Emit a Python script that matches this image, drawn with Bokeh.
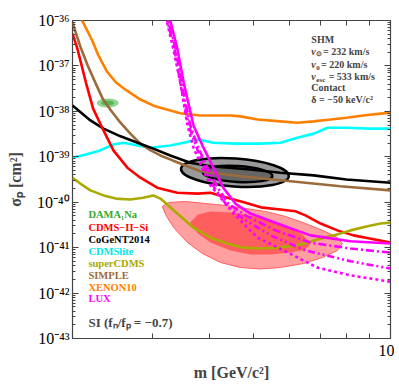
import numpy as np
from bokeh.plotting import figure
from bokeh.models import Range1d, LogAxis, FixedTicker, LogTicker, CustomJSTickFormatter, Label
from bokeh.embed import file_html
from bokeh.resources import INLINE

# ---------------- data (mass in GeV/c^2, log10 of sigma_p in cm^2) ----------------
xenon10_m = [2.09, 2.21, 2.28, 2.38, 2.49, 2.63, 2.82, 3.04, 3.45, 3.82, 4.45, 4.68, 5.10, 5.73, 6.24, 6.78, 7.38, 8.0, 8.72, 9.51, 10.0]
xenon10_logs = [-35.96, -36.44, -36.77, -37.12, -37.36, -37.54, -37.74, -37.89, -38.04, -38.09, -38.09, -38.11, -38.18, -38.22, -38.25, -38.22, -38.18, -38.14, -38.09, -38.05, -38.03]

simple_m = [2.0, 2.08, 2.16, 2.25, 2.33, 2.43, 2.55, 2.68, 2.82, 2.97, 3.12, 3.32, 3.54, 3.82, 4.68, 6.03, 7.76, 10.0]
simple_logs = [-36.04, -36.57, -36.99, -37.39, -37.72, -37.98, -38.25, -38.49, -38.71, -38.86, -38.97, -39.08, -39.19, -39.32, -39.43, -39.54, -39.65, -39.74]

cdmssi_m = [2.0, 2.05, 2.14, 2.22, 2.34, 2.46, 2.64, 2.82, 3.07, 3.40, 3.77, 4.02, 4.38, 4.80, 5.23, 5.73, 6.18, 6.50, 7.02, 7.64, 8.29, 9.0, 10.0]
cdmssi_logs = [-36.29, -36.62, -37.36, -37.94, -38.42, -38.86, -39.24, -39.46, -39.68, -39.79, -39.81, -39.79, -39.90, -40.01, -40.12, -40.16, -40.20, -40.29, -40.47, -40.62, -40.73, -40.80, -40.89]

cogent_m = [2.0, 2.19, 2.34, 2.55, 2.78, 3.01, 3.28, 3.63, 4.02, 4.92, 5.73, 6.78, 8.0, 10.0]
cogent_logs = [-37.87, -38.20, -38.38, -38.55, -38.69, -38.82, -38.97, -39.13, -39.21, -39.28, -39.35, -39.41, -39.50, -39.57]

cdmslite_m = [2.0, 2.14, 2.30, 2.46, 2.59, 2.78, 2.97, 3.28, 3.51, 3.77, 4.08, 4.56, 5.18, 5.73, 6.24, 6.78, 7.27, 8.0, 9.0, 10.0]
cdmslite_logs = [-39.02, -38.95, -38.86, -38.73, -38.69, -38.75, -38.80, -38.75, -38.69, -38.62, -38.69, -38.71, -38.71, -38.69, -38.58, -38.49, -38.36, -38.36, -38.38, -38.38]

supercdms_m = [2.0, 2.08, 2.19, 2.34, 2.49, 2.68, 2.86, 3.01, 3.12, 3.23, 3.40, 3.69, 4.02, 4.38, 4.75, 5.18, 5.73, 6.34, 6.91, 7.49, 8.17, 8.90, 9.51, 10.0]
supercdms_logs = [-39.46, -39.59, -39.74, -39.85, -39.92, -39.94, -39.90, -39.85, -39.92, -40.05, -40.25, -40.56, -40.78, -40.91, -41.00, -41.02, -41.00, -40.93, -40.82, -40.73, -40.62, -40.53, -40.47, -40.45]

lux_solid_m = [3.20, 3.28, 3.40, 3.51, 3.69, 3.88, 4.08, 4.29, 4.56, 4.92, 5.64, 6.67, 8.17, 10.0]
lux_solid_logs = [-35.8, -36.0, -36.62, -37.36, -38.31, -38.80, -39.24, -39.68, -40.03, -40.25, -40.47, -40.73, -40.86, -40.91]
lux_dotted_m = [3.15, 3.22, 3.33, 3.45, 3.58, 3.69, 3.82, 4.02, 4.23, 4.52, 5.10, 5.82, 6.91, 8.17, 10.0]
lux_dotted_logs = [-35.8, -36.0, -36.62, -37.36, -38.31, -38.80, -39.15, -39.63, -39.90, -40.25, -40.78, -41.06, -41.44, -41.61, -41.75]
lux_dashdot_m = [3.18, 3.25, 3.37, 3.47, 3.63, 3.78, 3.96, 4.17, 4.40, 4.80, 5.59, 6.67, 8.17, 10.0]
lux_dashdot_logs = [-35.8, -36.0, -36.62, -37.36, -38.31, -38.80, -39.24, -39.68, -40.03, -40.29, -40.62, -40.89, -41.02, -41.11]
lux_dashdotdot_m = [3.16, 3.23, 3.35, 3.45, 3.60, 3.75, 3.90, 4.10, 4.34, 4.73, 5.45, 6.50, 8.17, 10.0]
lux_dashdotdot_logs = [-35.8, -36.0, -36.62, -37.36, -38.31, -38.80, -39.24, -39.68, -40.03, -40.36, -40.73, -41.06, -41.30, -41.46]

# CDMS-II-Si signal regions (contour vertices)
cdmssi_outer_m = [3.15, 3.25, 3.54, 3.92, 4.34, 4.80, 5.31, 5.88, 6.50, 7.19, 7.64, 7.84, 7.64, 7.09, 6.44, 5.73, 5.18, 4.68, 4.23, 3.86, 3.58, 3.35, 3.22]
cdmssi_outer_logs = [-40.094, -40.006, -39.984, -40.028, -40.072, -40.138, -40.204, -40.314, -40.468, -40.644, -40.777, -40.909, -41.063, -41.217, -41.349, -41.437, -41.470, -41.437, -41.327, -41.129, -40.887, -40.578, -40.314]
cdmssi_inner_m = [3.63, 3.77, 4.02, 4.45, 4.92, 5.45, 6.03, 6.44, 6.67, 6.50, 6.03, 5.45, 4.92, 4.45, 4.02, 3.77]
cdmssi_inner_logs = [-40.446, -40.270, -40.204, -40.226, -40.292, -40.402, -40.556, -40.733, -40.909, -41.041, -41.107, -41.151, -41.151, -41.063, -40.887, -40.689]

# DAMA and CoGeNT region centres
dama_center_m = [2.39]
dama_center_logs = [-37.816]
cogent_outer_center_m = [4.55]
cogent_outer_center_logs = [-39.346]
cogent_inner_center_m = [4.61]
cogent_inner_center_logs = [-39.379]

x_ticks = [3, 4, 5, 6, 7, 8, 9, 10]
x_tick_labels = ["", "", "", "", "", "", "", "10"]
y_tick_exps = [-43, -42, -41, -40, -39, -38, -37, -36]
y_tick_labels = ["10\u207b\u2074\u00b3", "10\u207b\u2074\u00b2", "10\u207b\u2074\u00b9", "10\u207b\u2074\u2070",
                 "10\u207b\u00b3\u2079", "10\u207b\u00b3\u2078", "10\u207b\u00b3\u2077", "10\u207b\u00b3\u2076"]

legend_names = ["DAMA\u2081Na", "CDMS\u2212II\u2212Si", "CoGeNT2014", "CDMSlite", "superCDMS", "SIMPLE", "XENON10", "LUX"]
legend_colors = ["#33aa33", "#ff0000", "#000000", "#00e8e8", "#a8a800", "#9c6b3c", "#ff8000", "#ff00ff"]

def s(v):
    return [10.0 ** x for x in v]

FONT = "Liberation Serif"

p = figure(x_axis_type="log", y_axis_type="log",
           x_range=Range1d(2, 10), y_range=Range1d(1e-43, 1e-36),
           frame_width=318, frame_height=318,
           min_border_left=72, min_border_right=4, min_border_top=20, min_border_bottom=44,
           output_backend="svg", toolbar_location=None)
p.grid.visible = False
p.outline_line_color = "#444444"
p.outline_line_width = 1.2
p.background_fill_color = "white"
p.border_fill_color = "white"

# bottom axis
xa = p.xaxis[0]
xa.ticker = FixedTicker(ticks=x_ticks, minor_ticks=[])
xa.formatter = CustomJSTickFormatter(args=dict(vals=x_ticks, labs=x_tick_labels),
                                     code="const i = vals.indexOf(tick); return i >= 0 ? labs[i] : '';")
xa.major_tick_in = 5
xa.major_tick_out = 0
xa.major_tick_line_color = "#444444"
xa.axis_line_color = None
xa.major_label_text_font = FONT
xa.major_label_text_font_size = "16px"
xa.major_label_text_color = "black"
xa.major_label_standoff = 6
xa.axis_label = "m [GeV/c\u00b2]"
xa.axis_label_text_font = FONT
xa.axis_label_text_font_style = "bold"
xa.axis_label_text_font_size = "16px"
xa.axis_label_standoff = 5

ya = p.yaxis[0]
ya.ticker = LogTicker(num_minor_ticks=10)
ya.formatter = CustomJSTickFormatter(args=dict(exps=y_tick_exps, labs=y_tick_labels),
                                     code="const e = Math.round(Math.log10(tick)); const i = exps.indexOf(e); return i >= 0 ? labs[i] : '';")
ya.major_tick_in = 6
ya.major_tick_out = 0
ya.minor_tick_in = 3
ya.minor_tick_out = 0
ya.major_tick_line_color = "#444444"
ya.minor_tick_line_color = "#444444"
ya.axis_line_color = None
ya.major_label_text_font = FONT
ya.major_label_text_font_size = "16px"
ya.major_label_text_color = "black"
ya.major_label_standoff = 3
ya.axis_label = "\u03c3\u209a [cm\u00b2]"
ya.axis_label_text_font = FONT
ya.axis_label_text_font_style = "bold"
ya.axis_label_text_font_size = "16px"
ya.axis_label_standoff = 10

empty = "return '';"
top = LogAxis(ticker=FixedTicker(ticks=x_ticks, minor_ticks=[]), formatter=CustomJSTickFormatter(code=empty),
              major_tick_in=5, major_tick_out=0, axis_line_color=None, major_tick_line_color="#444444",
              major_label_standoff=0)
p.add_layout(top, "above")
right = LogAxis(ticker=LogTicker(num_minor_ticks=10), formatter=CustomJSTickFormatter(code=empty),
                major_tick_in=6, major_tick_out=0, minor_tick_in=3, minor_tick_out=0,
                axis_line_color=None, major_tick_line_color="#444444", minor_tick_line_color="#444444",
                major_label_standoff=0)
p.add_layout(right, "right")

# ---------------- regions ----------------
p.patch(cdmssi_outer_m, s(cdmssi_outer_logs), fill_color="#ff9a9a", fill_alpha=0.95,
        line_color="#ff6060", line_width=1)
p.patch(cdmssi_inner_m, s(cdmssi_inner_logs), fill_color="#ff5e5e", line_color=None)

p.ellipse(x=cogent_outer_center_m, y=s(cogent_outer_center_logs), width=108, height=28, angle=-0.07,
          width_units="screen", height_units="screen", fill_color="#9a9a9a", line_color="black", line_width=2.5)
p.ellipse(x=cogent_inner_center_m, y=s(cogent_inner_center_logs), width=70, height=16, angle=-0.06,
          width_units="screen", height_units="screen", fill_color="#666666", line_color="black", line_width=2.5)

p.ellipse(x=dama_center_m, y=s(dama_center_logs), width=22, height=9,
          width_units="screen", height_units="screen", fill_color="#7fcc7f", fill_alpha=0.85, line_color=None)
p.ellipse(x=dama_center_m, y=s(dama_center_logs), width=13, height=5,
          width_units="screen", height_units="screen", fill_color="#4fb44f", fill_alpha=0.9, line_color=None)

# ---------------- limit lines ----------------
LW = 2.6
p.line(xenon10_m, s(xenon10_logs), line_color="#ff8000", line_width=LW)
p.line(cdmslite_m, s(cdmslite_logs), line_color="#00ffff", line_width=LW)
p.line(simple_m, s(simple_logs), line_color="#9c6b3c", line_width=LW)
p.line(cogent_m, s(cogent_logs), line_color="black", line_width=LW)
p.line(cdmssi_m, s(cdmssi_logs), line_color="#ff0000", line_width=LW)
p.line(supercdms_m, s(supercdms_logs), line_color="#aaaa00", line_width=LW)
p.line(lux_solid_m, s(lux_solid_logs), line_color="#ff00ff", line_width=LW)
p.line(lux_dashdot_m, s(lux_dashdot_logs), line_color="#ff00ff", line_width=LW, line_dash="8 3 2 3")
p.line(lux_dashdotdot_m, s(lux_dashdotdot_logs), line_color="#ff00ff", line_width=LW, line_dash="7 3 2 3 2 3")
p.line(lux_dotted_m, s(lux_dotted_logs), line_color="#ff00ff", line_width=LW, line_dash="3 3")

# ---------------- texts ----------------
legend_logs = [-40.27, -40.556, -40.82, -41.085, -41.35, -41.61, -41.877, -42.12]
for name, col, ly in zip(legend_names, legend_colors, legend_logs):
    p.add_layout(Label(x=2.168, y=10 ** ly, text=name, text_color=col, text_font=FONT,
                       text_font_style="bold", text_font_size="10.5px", text_baseline="middle"))

p.add_layout(Label(x=2.168, y=10 ** -42.648, text="SI (f\u2099/f\u209a = \u22120.7)", text_font=FONT,
                   text_font_style="bold", text_font_size="13px", text_baseline="middle"))

tx = 6.70
info = [("SHM", None, None, -36.418),
        ("v", "\u2299", "= 232 km/s", -36.682),
        ("v", "0", "= 220 km/s", -36.969),
        ("v", "esc", "= 533 km/s", -37.233),
        ("Contact", None, None, -37.475),
        ("\u03b4 = \u221250 keV/c\u00b2", None, None, -37.739)]
sub_off = {"\u2299": (5, 11.7), "0": (5, 9.7), "esc": (5, 17.3)}
for main, sub, rest, ly in info:
    style = "bold italic" if sub else "bold"
    p.add_layout(Label(x=tx, y=10 ** ly, text=main, text_font=FONT, text_font_style=style,
                       text_font_size="10px", text_baseline="middle"))
    if sub:
        o1, o2 = sub_off[sub]
        p.add_layout(Label(x=tx, y=10 ** ly, x_offset=o1, y_offset=-3, text=sub, text_font=FONT,
                           text_font_style="bold", text_font_size="7px", text_baseline="middle"))
        p.add_layout(Label(x=tx, y=10 ** ly, x_offset=o2, text=rest, text_font=FONT,
                           text_font_style="bold", text_font_size="10px", text_baseline="middle"))

open("out.html", "w").write(file_html(p, INLINE))
